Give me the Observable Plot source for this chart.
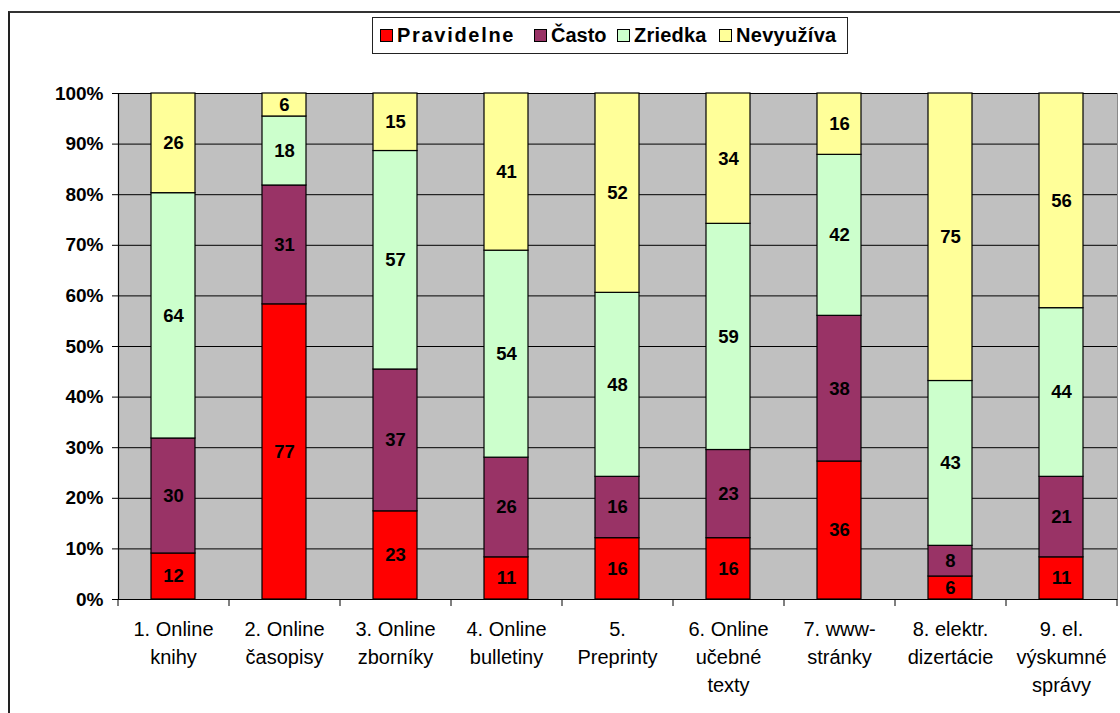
<!DOCTYPE html>
<html>
<head>
<meta charset="utf-8">
<script src="https://cdn.jsdelivr.net/npm/d3@7"></script>
<script src="https://cdn.jsdelivr.net/npm/@observablehq/plot@0.6"></script>
<style>
  html, body { margin: 0; padding: 0; background: #fff; }
  #wrap { position: relative; width: 1120px; height: 713px; overflow: hidden; font-family: "Liberation Sans", Arial, sans-serif; }
  #border { position: absolute; left: 8px; top: 11px; width: 1200px; height: 800px; border-left: 2px solid #222; border-top: 2px solid #333; }
  #legend { position: absolute; left: 372px; top: 17px; width: 474px; height: 35px; border: 1px solid #222; background: #fff; }
  .item { position: absolute; top: 0; height: 35px; display: flex; align-items: center; font-weight: bold; font-size: 20px; }
  .sw { width: 11px; height: 11px; border: 1px solid #000; margin-right: 4px; }
  #chart { position: absolute; left: 0; top: 0; }
</style>
</head>
<body>
<div id="wrap">
  <div id="border"></div>
  <div id="chart"></div>
  <div id="legend"></div>
</div>
<script>
const categories = [
  "1. Online\nknihy",
  "2. Online\nčasopisy",
  "3. Online\nzborníky",
  "4. Online\nbulletiny",
  "5.\nPreprinty",
  "6. Online\nučebné\ntexty",
  "7. www-\nstránky",
  "8. elektr.\ndizertácie",
  "9. el.\nvýskumné\nsprávy"
];
const series = ["Pravidelne", "Často", "Zriedka", "Nevyužíva"];
const colors = ["#FF0000", "#993366", "#CCFFCC", "#FFFF99"];
const pravidelne = [12, 77, 23, 11, 16, 16, 36, 6, 11];
const casto      = [30, 31, 37, 26, 16, 23, 38, 8, 21];
const zriedka    = [64, 18, 57, 54, 48, 59, 42, 43, 44];
const nevyuziva  = [26, 6, 15, 41, 52, 34, 16, 75, 56];
const yTicks = [0, 0.1, 0.2, 0.3, 0.4, 0.5, 0.6, 0.7, 0.8, 0.9, 1];

const seriesValues = [pravidelne, casto, zriedka, nevyuziva];
const data = [];
series.forEach((s, si) => {
  categories.forEach((c, ci) => data.push({category: c, series: s, value: seriesValues[si][ci]}));
});

const W = 1120, H = 713, ML = 118, MR = 3;
const step = (W - ML - MR) / categories.length;
const font = "'Liberation Sans', Arial, sans-serif";

const stackOpts = (extra) => Plot.stackY({x: "category", y: "value", z: "series", offset: "normalize", order: null, ...extra});

const plot = Plot.plot({
  width: W,
  height: H,
  marginLeft: ML,
  marginRight: MR,
  marginTop: 93,
  marginBottom: 114,
  style: {fontFamily: font, background: "transparent", overflow: "visible"},
  x: {domain: categories, paddingInner: 0.6, paddingOuter: 0.3, label: null},
  y: {domain: [0, 1], label: null},
  color: {domain: series, range: colors},
  marks: [
    Plot.frame({fill: "#C0C0C0", stroke: "#8a8a8a"}),
    Plot.gridY(yTicks, {stroke: "#000", strokeOpacity: 1, strokeWidth: 1}),
    Plot.barY(data, stackOpts({fill: "series", stroke: "#000", strokeWidth: 1.2, inset: 0})),
    Plot.text(data, stackOpts({text: "value", fill: "#000", fontWeight: "bold", fontSize: 18.5})),
    Plot.frame({anchor: "left", stroke: "#000", strokeWidth: 1.2}),
    Plot.ruleY([0], {stroke: "#000", strokeWidth: 1.2}),
    Plot.axisY({ticks: yTicks, tickFormat: d => Math.round(d * 100) + "%", tickSize: 6, tickPadding: 9,
      fontSize: 19, fontWeight: "bold", fill: "#000", stroke: "#000", label: null}),
    Plot.axisX({tickSize: 7, text: null, dx: -step / 2, stroke: "#000"}),
    Plot.axisX({ticks: [categories[categories.length - 1]], tickSize: 7, text: null, dx: step / 2, stroke: "#000"}),
    Plot.axisX({tickSize: 0, tickPadding: 17, fontSize: 20, lineHeight: 1.4, lineAnchor: "top", fill: "#000", label: null})
  ]
});
document.getElementById("chart").appendChild(plot);

const legend = document.getElementById("legend");
const legendLeft = [7, 161, 244, 346];
const legendSpacing = [1.7, 0, 0.2, 0.3];
series.forEach((s, i) => {
  const it = document.createElement("div");
  it.className = "item";
  it.style.left = legendLeft[i] + "px";
  const sw = document.createElement("div");
  sw.className = "sw";
  sw.style.background = colors[i];
  it.appendChild(sw);
  const t = document.createElement("span");
  t.textContent = s;
  t.style.letterSpacing = legendSpacing[i] + "px";
  it.appendChild(t);
  legend.appendChild(it);
});
</script>
</body>
</html>
